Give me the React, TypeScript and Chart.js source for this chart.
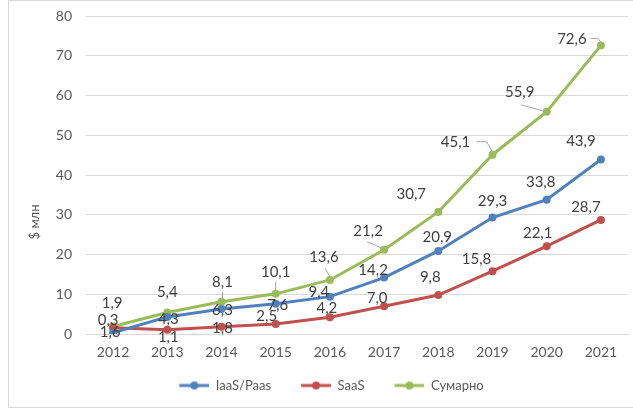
import { useEffect, useRef } from "react";
import { Chart, registerables } from "chart.js";

Chart.register(...registerables);

// Market volume by year, $ млн
const years = ["2012", "2013", "2014", "2015", "2016", "2017", "2018", "2019", "2020", "2021"];
const iaasPaas = [0.3, 4.3, 6.3, 7.6, 9.4, 14.2, 20.9, 29.3, 33.8, 43.9];
const saas = [1.6, 1.1, 1.8, 2.5, 4.2, 7.0, 9.8, 15.8, 22.1, 28.7];
const total = [1.9, 5.4, 8.1, 10.1, 13.6, 21.2, 30.7, 45.1, 55.9, 72.6];
const seriesNames = ["IaaS/Paas", "SaaS", "Сумарно"];

const Y_MIN = 0;
const Y_MAX = 80;
const Y_STEP = 10;

const BLUE = "#4F81BD";
const RED = "#C0504D";
const GREEN = "#9BBB59";
const FONT = "Lato, 'Open Sans', sans-serif";

type Placement = { dx: number; dy: number; leader?: [number, number][] };

// Where each value label sits relative to its point, with optional leader lines
const bluePlacement: Placement[] = [
  { dx: -5, dy: -13 },
  { dx: 1, dy: 2 },
  { dx: 1, dy: 1 },
  { dx: 2, dy: 1 },
  { dx: -11, dy: -4 },
  { dx: -11, dy: -7 },
  { dx: -1, dy: -14 },
  { dx: 0, dy: -16 },
  { dx: -6, dy: -17 },
  { dx: -20, dy: -18 },
];
const redPlacement: Placement[] = [
  { dx: -3, dy: 5 },
  { dx: 1, dy: 8 },
  { dx: 1, dy: 1 },
  { dx: -9, dy: -8 },
  { dx: -3, dy: -9 },
  { dx: -7, dy: -8 },
  { dx: -8, dy: -18 },
  { dx: -16, dy: -12 },
  { dx: -9, dy: -13 },
  { dx: -15, dy: -13 },
];
const greenPlacement: Placement[] = [
  { dx: -1, dy: -23 },
  { dx: 0, dy: -20 },
  { dx: 1, dy: -20, leader: [[1, -10], [1, -3]] },
  { dx: 0, dy: -22, leader: [[0, -12], [0, -3]] },
  { dx: -6, dy: -23, leader: [[-5, -12], [0, -3]] },
  { dx: -16, dy: -19, leader: [[-17, -8], [-3, -2]] },
  { dx: -27, dy: -18 },
  { dx: -37, dy: -13, leader: [[-16, -13], [-6, -13], [0, -3]] },
  { dx: -27, dy: -20, leader: [[-26, -7], [-4, -1]] },
  { dx: -29, dy: -6, leader: [[-10, -7], [-3, -7], [0, -3]] },
];
const placements = [bluePlacement, redPlacement, greenPlacement];

const fmt = (v: number) => v.toFixed(1).replace(".", ",");

// Legend marker: a short line with a dot, with blank space on the left
// so that items sit further apart than the legend padding alone gives.
const ICON_GAP = 15;
const ICON_LINE = 30;
function legendIcon(color: string): HTMLCanvasElement {
  const c = document.createElement("canvas");
  c.width = ICON_GAP + ICON_LINE;
  c.height = 10;
  const ctx = c.getContext("2d")!;
  ctx.strokeStyle = color;
  ctx.lineWidth = 3;
  ctx.beginPath();
  ctx.moveTo(ICON_GAP, 5);
  ctx.lineTo(ICON_GAP + ICON_LINE, 5);
  ctx.stroke();
  ctx.fillStyle = color;
  ctx.beginPath();
  ctx.arc(ICON_GAP + ICON_LINE / 2, 5, 4, 0, Math.PI * 2);
  ctx.fill();
  return c;
}

const valueLabels = {
  id: "valueLabels",
  afterDatasetsDraw(chart: Chart) {
    const ctx = chart.ctx;
    ctx.save();
    ctx.font = `15px ${FONT}`;
    ctx.textAlign = "center";
    ctx.textBaseline = "middle";
    chart.data.datasets.forEach((ds, di) => {
      const meta = chart.getDatasetMeta(di);
      meta.data.forEach((pt, i) => {
        const p = placements[di][i];
        const x = pt.x;
        const y = pt.y;
        if (p.leader) {
          ctx.strokeStyle = "#a6a6a6";
          ctx.lineWidth = 1;
          ctx.beginPath();
          p.leader.forEach(([lx, ly], k) => {
            if (k === 0) ctx.moveTo(x + lx, y + ly);
            else ctx.lineTo(x + lx, y + ly);
          });
          ctx.stroke();
        }
        ctx.fillStyle = "#404040";
        ctx.fillText(fmt(ds.data[i] as number), x + p.dx, y + p.dy);
      });
    });
    ctx.restore();
  },
};

const yTitle = {
  id: "yTitle",
  afterDraw(chart: Chart) {
    const ctx = chart.ctx;
    ctx.save();
    ctx.translate(35, 222);
    ctx.rotate(-Math.PI / 2);
    ctx.font = `13px ${FONT}`;
    ctx.fillStyle = "#595959";
    ctx.textAlign = "center";
    ctx.textBaseline = "middle";
    ctx.fillText("$ млн", 0, 0);
    ctx.restore();
  },
};

export default function App() {
  const ref = useRef<HTMLCanvasElement | null>(null);

  useEffect(() => {
    if (!ref.current) return;
    const colors = [BLUE, RED, GREEN];
    const values = [iaasPaas, saas, total];
    const chart = new Chart(ref.current, {
      type: "line",
      data: {
        labels: years,
        datasets: values.map((data, i) => ({
          label: seriesNames[i],
          data,
          borderColor: colors[i],
          backgroundColor: colors[i],
          borderWidth: 3,
          pointRadius: 4,
          pointBackgroundColor: colors[i],
          pointBorderWidth: 0,
          tension: 0,
        })),
      },
      options: {
        responsive: false,
        animation: false,
        layout: { padding: { left: 20, right: 5, top: 0, bottom: 6 } },
        scales: {
          x: {
            offset: true,
            grid: { display: false, drawTicks: false },
            border: { display: true, color: "#d9d9d9", width: 1 },
            ticks: { color: "#595959", font: { family: FONT, size: 14 }, padding: 10 },
            afterFit: (s: any) => {
              s.height = 30;
            },
          },
          y: {
            min: Y_MIN,
            max: Y_MAX,
            ticks: {
              stepSize: Y_STEP,
              color: "#595959",
              font: { family: FONT, size: 14 },
              padding: 14,
            },
            grid: { color: "#d9d9d9", drawTicks: false },
            border: { display: false },
            afterFit: (s: any) => {
              s.width = 66;
              s.paddingTop = 16;
              s.paddingBottom = 0;
            },
          },
        },
        plugins: {
          tooltip: { enabled: false },
          legend: {
            position: "bottom",
            labels: {
              usePointStyle: true,
              pointStyleWidth: ICON_GAP + ICON_LINE,
              padding: 15,
              color: "#595959",
              font: { family: FONT, size: 13 },
              generateLabels: (c: Chart) =>
                c.data.datasets.map((ds, i) => ({
                  text: ds.label as string,
                  pointStyle: legendIcon(colors[i]) as any,
                  fillStyle: colors[i],
                  strokeStyle: colors[i],
                  lineWidth: 0,
                  hidden: false,
                  datasetIndex: i,
                  fontColor: "#595959",
                })),
            },
          },
        },
      },
      plugins: [valueLabels, yTitle],
    });
    return () => chart.destroy();
  }, []);

  return (
    <>
      <div
        style={{
          position: "absolute",
          left: 8,
          top: 0,
          width: 625,
          height: 406,
          borderTop: "1px solid #d9d9d9",
          borderLeft: "1px solid #d9d9d9",
          borderBottom: "1px solid #d9d9d9",
          background: "#fff",
        }}
      />
      <canvas
        ref={ref}
        width={633}
        height={408}
        style={{ position: "absolute", left: 0, top: 0, width: 633, height: 408 }}
      />
    </>
  );
}
